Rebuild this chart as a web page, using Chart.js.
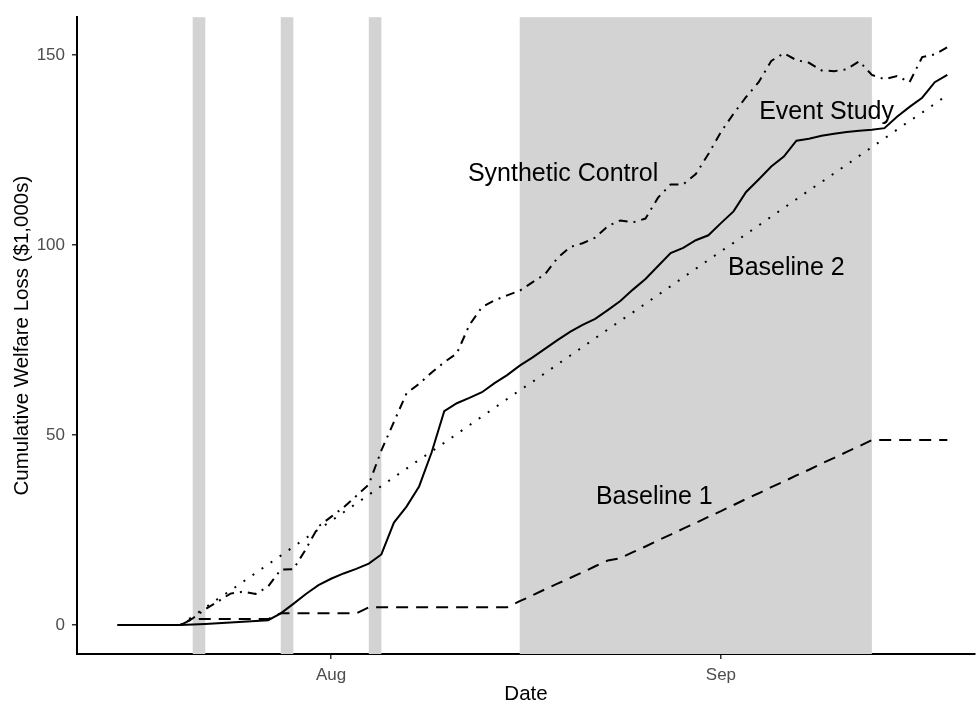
<!DOCTYPE html>
<html>
<head>
<meta charset="utf-8">
<script src="https://cdn.jsdelivr.net/npm/chart.js@4.4.1/dist/chart.umd.min.js"></script>
<style>
  html, body { margin: 0; padding: 0; background: #fff; }
  #wrap { width: 977px; height: 705px; }
</style>
</head>
<body>
<div id="wrap"><canvas id="lossChart" width="977" height="705"></canvas></div>
<script>
// Days counted from 1 August (negative = July)
const days = [-17, -16, -15, -14, -13, -12, -11, -10, -9, -8, -7, -6, -5, -4, -3, -2, -1,
  0, 1, 2, 3, 4, 5, 6, 7, 8, 9, 10, 11, 12, 13, 14, 15, 16, 17, 18, 19, 20, 21, 22, 23, 24,
  25, 26, 27, 28, 29, 30, 31, 32, 33, 34, 35, 36, 37, 38, 39, 40, 41, 42, 43, 44, 45, 46, 47, 48, 49];

const eventStudy = [0, 0, 0, 0, 0, 0, 0.15, 0.3, 0.5, 0.7, 0.9, 1.1, 1.3,
  3.1, 5.6, 8.2, 10.5, 12.2, 13.6, 14.8, 16.2, 18.6,
  27, 31.2, 36.5, 45.5, 56.3, 58.4, 59.8, 61.3, 63.7, 65.8,
  68.3, 70.4, 72.7, 75, 77.2, 79, 80.6, 82.9, 85.3, 88.3,
  91.1, 94.5, 97.9, 99.3, 101.3, 102.6, 105.8, 108.9, 114, 117.3,
  120.7, 123.3, 127.5, 128, 128.8, 129.3, 129.8, 130.1, 130.4, 130.8,
  133.8, 136.4, 138.8, 142.9, 144.8];

const syntheticControl = [null, null, null, null, null,
  0, 1.8, 4.2, 6.2, 8.3, 8.8, 8.2, 10.2, 14.6, 14.7, 20, 26,
  28.5, 31, 34, 37, 46, 53.5, 61, 63.5, 66.5, 69.2, 71.5, 79, 83.7, 85.5, 86.8,
  88, 90.2, 92.3, 96.6, 99.5, 100.5, 102, 105, 106.5, 106,
  107, 112.5, 116, 116, 118.7, 124, 129.8, 134.6, 139, 142.9,
  148.5, 150.5, 148.7, 148, 146, 145.8, 146.3, 148.4, 144.8, 143.7,
  144.5, 142.9, 149.5, 150.2, 152.1];

const baseline2 = [null, null, null, null, null,
  0, 2.3, 4.6, 6.9, 9.1, 11.4, 13.7, 16.0, 18.3, 20.6, 22.9, 25.2,
  27.4, 29.7, 32.0, 34.3, 36.6, 38.9, 41.2, 43.5, 45.7, 48.0, 50.3, 52.6, 54.9, 57.2, 59.5,
  61.8, 64.0, 66.3, 68.6, 70.9, 73.2, 75.5, 77.8, 80.1, 82.3,
  84.6, 86.9, 89.2, 91.5, 93.8, 96.1, 98.4, 100.6, 102.9, 105.2,
  107.5, 109.8, 112.1, 114.4, 116.6, 118.9, 121.2, 123.5, 125.8, 128.1,
  130.4, 132.7, 134.9, 137.2, 139.5];

const baseline1 = [null, null, null, null, null,
  0, 1.6, 1.6, 1.6, 1.6, 1.6, 1.6, 1.6, 3.1, 3.1, 3.1, 3.1,
  3.1, 3.1, 3.1, 4.7, 4.7, 4.7, 4.7, 4.7, 4.7, 4.7, 4.7, 4.7, 4.7, 4.7, 4.7,
  6.3, 7.8, 9.4, 10.9, 12.4, 13.9, 15.5, 17.0, 17.6, 19.2,
  20.7, 22.3, 23.8, 25.4, 26.9, 28.5, 30.0, 31.6, 33.2, 34.7,
  36.3, 37.8, 39.4, 40.9, 42.5, 44.0, 45.6, 47.1, 48.7, 48.7,
  48.7, 48.7, 48.7, 48.7, 48.7];

// Shaded periods (day offsets)
const shadeStart = [-11, -4, 3, 15];
const shadeEnd = [-10, -3, 4, 43];

// Axis ticks
const xTickDays = [0, 31];
const xTickLabels = ['Aug', 'Sep'];
const yTicks = [0, 50, 100, 150];

// Curve labels
const noteText = ['Synthetic Control', 'Event Study', 'Baseline 2', 'Baseline 1'];
const noteX = [18.45, 39.4, 36.2, 25.7];
const noteY = [118.6, 135.1, 94, 33.8];

const FONT = '"Liberation Sans", Arial, Helvetica, sans-serif';

function pts(series) {
  return days.map((d, i) => ({ x: d, y: series[i] }));
}

const shadePlugin = {
  id: 'shade',
  beforeDatasetsDraw(chart) {
    const { ctx, chartArea, scales: { x } } = chart;
    ctx.save();
    ctx.fillStyle = '#d3d3d3';
    shadeStart.forEach((s, i) => {
      const x0 = x.getPixelForValue(s);
      const x1 = x.getPixelForValue(shadeEnd[i]);
      ctx.fillRect(x0, chartArea.top, x1 - x0, chartArea.bottom - chartArea.top);
    });
    ctx.restore();
  }
};

const notePlugin = {
  id: 'notes',
  afterDatasetsDraw(chart) {
    const { ctx, scales: { x, y } } = chart;
    ctx.save();
    ctx.font = '25px ' + FONT;
    ctx.fillStyle = '#000';
    ctx.textAlign = 'center';
    ctx.textBaseline = 'middle';
    noteText.forEach((t, i) => {
      ctx.fillText(t, x.getPixelForValue(noteX[i]), y.getPixelForValue(noteY[i]));
    });
    ctx.restore();
  }
};

function lineSet(label, series, dash) {
  return {
    label: label,
    data: pts(series),
    borderColor: '#000',
    borderWidth: 2,
    borderDash: dash,
    pointRadius: 0,
    tension: 0,
    fill: false
  };
}

new Chart(document.getElementById('lossChart'), {
  type: 'line',
  data: {
    datasets: [
      lineSet('Baseline 1', baseline1, [12, 8]),
      lineSet('Baseline 2', baseline2, [2, 9]),
      lineSet('Synthetic Control', syntheticControl, [2, 6, 9, 6]),
      lineSet('Event Study', eventStudy, [])
    ]
  },
  options: {
    responsive: false,
    animation: false,
    layout: { padding: { left: 0, right: 2, top: 15, bottom: 0 } },
    plugins: {
      legend: { display: false },
      tooltip: { enabled: false }
    },
    scales: {
      x: {
        type: 'linear',
        min: -20.2,
        max: 51.2,
        z: 1,
        afterFit: s => { s.height = 51; },
        afterBuildTicks: s => { s.ticks = xTickDays.map(v => ({ value: v })); },
        grid: { drawOnChartArea: false, drawTicks: true, tickLength: 5, color: '#333', lineWidth: 1.5 },
        border: { display: true, color: '#000', width: 2 },
        ticks: {
          padding: 6,
          color: '#4d4d4d',
          font: { family: FONT, size: 17 },
          maxRotation: 0,
          callback: (v, i) => xTickLabels[i]
        },
        title: {
          display: true,
          text: 'Date',
          color: '#000',
          font: { family: FONT, size: 20.5, lineHeight: 1 },
          padding: { top: 0, bottom: 0 }
        }
      },
      y: {
        min: -7.6,
        max: 160,
        z: 1,
        afterFit: s => { s.width = 77; },
        afterBuildTicks: s => { s.ticks = yTicks.map(v => ({ value: v })); },
        grid: { drawOnChartArea: false, drawTicks: true, tickLength: 5, color: '#333', lineWidth: 1.5 },
        border: { display: true, color: '#000', width: 2 },
        ticks: {
          padding: 7,
          color: '#4d4d4d',
          font: { family: FONT, size: 17 }
        },
        title: {
          display: true,
          text: 'Cumulative Welfare Loss ($1,000s)',
          color: '#000',
          font: { family: FONT, size: 20.5, lineHeight: 1 },
          padding: { top: 12, bottom: 0 }
        }
      }
    }
  },
  plugins: [shadePlugin, notePlugin]
});
</script>
</body>
</html>
